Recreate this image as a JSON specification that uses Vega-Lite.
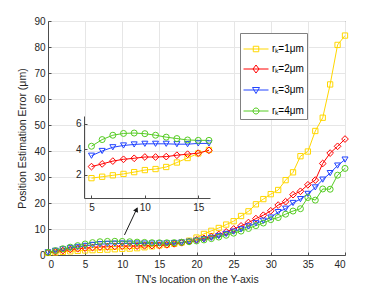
{
  "$schema": "https://vega.github.io/schema/vega-lite/v6.json",
  "width": 297,
  "height": 234,
  "autosize": {"type": "none"},
  "padding": {"left": 48, "top": 21, "right": 37, "bottom": 32},
  "background": "white",
  "config": {
    "font": "Liberation Sans",
    "view": {"stroke": "#4d4d4d", "strokeWidth": 1},
    "axis": {
      "labelFont": "Liberation Sans", "labelFontSize": 10, "labelColor": "#262626",
      "titleFont": "Liberation Sans", "titleFontSize": 10.5, "titleFontWeight": "normal", "titleColor": "#262626",
      "domainColor": "#4d4d4d", "tickColor": "#4d4d4d", "gridColor": "#e6e6e6"
    }
  },
  "datasets": {"d": [
    {"x":0,"r1":0.8,"r2":0.9,"r3":1.0,"r4":1.0},
    {"x":1,"r1":1.0,"r2":1.3,"r3":1.6,"r4":1.7},
    {"x":2,"r1":1.2,"r2":1.7,"r3":2.2,"r4":2.4},
    {"x":3,"r1":1.4,"r2":2.1,"r3":2.7,"r4":3.0},
    {"x":4,"r1":1.6,"r2":2.4,"r3":3.1,"r4":3.6},
    {"x":5,"r1":1.75,"r2":2.65,"r3":3.5,"r4":4.24},
    {"x":6,"r1":1.86,"r2":2.86,"r3":3.87,"r4":4.76},
    {"x":7,"r1":1.97,"r2":3.08,"r3":4.16,"r4":5.1},
    {"x":8,"r1":2.08,"r2":3.22,"r3":4.3,"r4":5.24},
    {"x":9,"r1":2.22,"r2":3.3,"r3":4.38,"r4":5.27},
    {"x":10,"r1":2.38,"r2":3.4,"r3":4.43,"r4":5.22},
    {"x":11,"r1":2.46,"r2":3.4,"r3":4.43,"r4":5.1},
    {"x":12,"r1":2.62,"r2":3.43,"r3":4.43,"r4":4.95},
    {"x":13,"r1":2.97,"r2":3.54,"r3":4.4,"r4":4.84},
    {"x":14,"r1":3.32,"r2":3.62,"r3":4.4,"r4":4.73},
    {"x":15,"r1":3.68,"r2":3.7,"r3":4.46,"r4":4.7},
    {"x":16,"r1":3.95,"r2":3.92,"r3":4.46,"r4":4.7},
    {"x":17,"r1":4.3,"r2":4.3,"r3":4.6,"r4":4.75},
    {"x":18,"r1":4.8,"r2":4.7,"r3":4.8,"r4":4.9},
    {"x":19,"r1":5.5,"r2":5.2,"r3":5.1,"r4":5.1},
    {"x":20,"r1":6.7,"r2":5.8,"r3":5.5,"r4":5.4},
    {"x":21,"r1":8.1,"r2":6.4,"r3":6.0,"r4":5.8},
    {"x":22,"r1":9.3,"r2":7.1,"r3":6.6,"r4":6.3},
    {"x":23,"r1":10.4,"r2":7.9,"r3":7.3,"r4":6.9},
    {"x":24,"r1":11.7,"r2":8.9,"r3":8.1,"r4":7.6},
    {"x":25,"r1":13.0,"r2":10.0,"r3":9.0,"r4":8.4},
    {"x":26,"r1":15.0,"r2":11.2,"r3":9.9,"r4":9.2},
    {"x":27,"r1":16.8,"r2":12.5,"r3":11.0,"r4":10.2},
    {"x":28,"r1":19.5,"r2":14.0,"r3":12.2,"r4":11.3},
    {"x":29,"r1":21.5,"r2":15.3,"r3":13.2,"r4":12.3},
    {"x":30,"r1":23.4,"r2":17.0,"r3":14.4,"r4":13.6},
    {"x":31,"r1":25.0,"r2":19.2,"r3":16.5,"r4":14.4},
    {"x":32,"r1":28.8,"r2":20.5,"r3":17.8,"r4":15.7},
    {"x":33,"r1":31.8,"r2":23.2,"r3":20.0,"r4":16.9},
    {"x":34,"r1":38.0,"r2":24.5,"r3":21.5,"r4":17.8},
    {"x":35,"r1":39.8,"r2":27.0,"r3":23.5,"r4":22.1},
    {"x":36,"r1":47.7,"r2":28.8,"r3":26.0,"r4":21.1},
    {"x":37,"r1":52.8,"r2":35.2,"r3":29.0,"r4":25.4},
    {"x":38,"r1":65.6,"r2":39.2,"r3":31.5,"r4":25.3},
    {"x":39,"r1":80.8,"r2":41.8,"r3":34.4,"r4":30.7},
    {"x":40,"r1":84.4,"r2":44.6,"r3":36.7,"r4":33.3}
  ]},
  "layer": [
    {
      "data": {"name": "d"},
      "transform": [{"fold": ["r1", "r2", "r3", "r4"], "as": ["s", "v"]}],
      "encoding": {
        "x": {"field": "x", "type": "quantitative",
              "scale": {"domain": [0, 40], "nice": false, "zero": false},
              "axis": {"values": [0,5,10,15,20,25,30,35,40], "title": "TN's location on the Y-axis", "grid": true, "tickSize": -3, "labelPadding": 7, "titlePadding": 5}},
        "y": {"field": "v", "type": "quantitative",
              "scale": {"domain": [0, 90], "nice": false},
              "axis": {"values": [0,10,20,30,40,50,60,70,80,90], "title": "Position Estimation Error (μm)", "grid": true, "tickSize": -3, "labelPadding": 6, "titlePadding": 6}}
      },
      "layer": [
        {
          "mark": {"type": "line", "strokeWidth": 1},
          "encoding": {
            "color": {"field": "s", "type": "nominal", "scale": {"domain": ["r1","r2","r3","r4"], "range": ["#FFD700","#FF0000","#2244FF","#55CC22"]}, "legend": null}
          }
        },
        {
          "transform": [{"filter": "datum.s === 'r1'"}],
          "mark": {"type": "point", "shape": "square", "size": 28, "strokeWidth": 1, "opacity": 1},
          "encoding": {"color": {"field": "s", "type": "nominal", "legend": null}}
        },
        {
          "transform": [{"filter": "datum.s === 'r2'"}],
          "mark": {"type": "point", "shape": "diamond", "size": 45, "strokeWidth": 1, "opacity": 1},
          "encoding": {"color": {"field": "s", "type": "nominal", "legend": null}}
        },
        {
          "transform": [{"filter": "datum.s === 'r3'"}],
          "mark": {"type": "point", "shape": "triangle-down", "size": 36, "strokeWidth": 1, "opacity": 1},
          "encoding": {"color": {"field": "s", "type": "nominal", "legend": null}}
        },
        {
          "transform": [{"filter": "datum.s === 'r4'"}],
          "mark": {"type": "point", "shape": "circle", "size": 36, "strokeWidth": 1, "opacity": 1},
          "encoding": {"color": {"field": "s", "type": "nominal", "legend": null}}
        }
      ]
    },
    {
      "data": {"values": [{"x0": 10.3, "y0": 7.7, "x1": 12.0, "y1": 18.0, "xh": 11.93, "yh": 17.5}]},
      "layer": [
        {
          "mark": {"type": "rule", "color": "#1a1a1a", "strokeWidth": 1},
          "encoding": {
            "x": {"field": "x0", "type": "quantitative", "scale": {"domain": [0, 40], "nice": false, "zero": false}, "axis": null},
            "y": {"field": "y0", "type": "quantitative", "scale": {"domain": [0, 90], "nice": false}, "axis": null},
            "x2": {"field": "x1"},
            "y2": {"field": "y1"}
          }
        },
        {
          "mark": {"type": "point", "shape": "triangle-up", "filled": true, "color": "#1a1a1a", "size": 30, "angle": 25, "opacity": 1},
          "encoding": {
            "x": {"field": "xh", "type": "quantitative"},
            "y": {"field": "yh", "type": "quantitative"}
          }
        }
      ]
    },
    {
      "data": {"name": "d"},
      "transform": [{"fold": ["r1", "r2", "r3", "r4"], "as": ["s", "v"]}],
      "encoding": {
        "x": {"field": "x", "type": "quantitative",
              "scale": {"domain": [4.3, 16.1], "nice": false, "zero": false, "range": [36, 162]},
              "axis": {"orient": "bottom", "offset": -57, "values": [5, 10, 15], "title": null, "grid": false, "tickSize": -3, "labelPadding": 7, "zindex": 1}},
        "y": {"field": "v", "type": "quantitative",
              "scale": {"domain": [0.2, 6.6], "nice": false, "zero": false, "range": [177, 95]},
              "axis": {"orient": "left", "offset": -36, "values": [2, 4, 6], "title": null, "grid": false, "tickSize": -3, "labelPadding": 6, "zindex": 1}}
      },
      "layer": [
        {
          "data": {"values": [{"a": 1}]},
          "mark": {"type": "rect", "fill": "white", "stroke": "#4d4d4d", "strokeWidth": 1},
          "encoding": {
            "x": {"datum": 4.3, "type": "quantitative"},
            "x2": {"datum": 16.1},
            "y": {"datum": 0.2, "type": "quantitative"},
            "y2": {"datum": 6.6}
          }
        },
        {
          "transform": [{"filter": "datum.x >= 5 && datum.x <= 16"}],
          "mark": {"type": "line", "strokeWidth": 1},
          "encoding": {"color": {"field": "s", "type": "nominal", "legend": null}}
        },
        {
          "transform": [{"filter": "datum.x >= 5 && datum.x <= 16 && datum.s === 'r1'"}],
          "mark": {"type": "point", "shape": "square", "size": 28, "strokeWidth": 1, "opacity": 1},
          "encoding": {"color": {"field": "s", "type": "nominal", "legend": null}}
        },
        {
          "transform": [{"filter": "datum.x >= 5 && datum.x <= 16 && datum.s === 'r2'"}],
          "mark": {"type": "point", "shape": "diamond", "size": 45, "strokeWidth": 1, "opacity": 1},
          "encoding": {"color": {"field": "s", "type": "nominal", "legend": null}}
        },
        {
          "transform": [{"filter": "datum.x >= 5 && datum.x <= 16 && datum.s === 'r3'"}],
          "mark": {"type": "point", "shape": "triangle-down", "size": 36, "strokeWidth": 1, "opacity": 1},
          "encoding": {"color": {"field": "s", "type": "nominal", "legend": null}}
        },
        {
          "transform": [{"filter": "datum.x >= 5 && datum.x <= 16 && datum.s === 'r4'"}],
          "mark": {"type": "point", "shape": "circle", "size": 36, "strokeWidth": 1, "opacity": 1},
          "encoding": {"color": {"field": "s", "type": "nominal", "legend": null}}
        }
      ]
    },
    {
      "data": {"name": "d"},
      "transform": [{"fold": ["r1", "r2", "r3", "r4"], "as": ["s", "v"]}, {"filter": "datum.x === 0"}],
      "mark": {"type": "point", "strokeWidth": 1, "strokeOpacity": 0},
      "encoding": {
        "x": {"field": "x", "type": "quantitative", "scale": {"domain": [0, 40]}, "axis": null},
        "y": {"field": "v", "type": "quantitative", "scale": {"domain": [0, 90]}, "axis": null},
        "stroke": {"field": "s", "type": "nominal",
          "scale": {"domain": ["r1","r2","r3","r4"], "range": ["#FFD700","#FF0000","#2244FF","#55CC22"]},
          "legend": {"orient": "none", "legendX": 192, "legendY": 12, "title": null, "symbolSize": 625, "rowPadding": 2, "padding": 3, "labelOffset": 3, "labelFontSize": 10, "strokeColor": "#808080", "fillColor": "white", "symbolStrokeWidth": 1, "symbolOpacity": 1, "labelExpr": "'rₖ=' + replace(datum.label, 'r', '') + 'μm'"}},
        "shape": {"field": "s", "type": "nominal",
          "scale": {"domain": ["r1","r2","r3","r4"], "range": [
            "M-1,0H1M-0.22,-0.22H0.22V0.22H-0.22Z",
            "M-1,0H1M0,-0.32L0.24,0L0,0.32L-0.24,0Z",
            "M-1,0H1M-0.28,-0.2H0.28L0,0.28Z",
            "M-1,0H1M0.24,0A0.24,0.24,0,1,1,-0.24,0A0.24,0.24,0,1,1,0.24,0Z"
          ]},
          "legend": {"orient": "none", "legendX": 192, "legendY": 12, "title": null, "symbolSize": 625, "rowPadding": 2, "padding": 3, "labelOffset": 3, "labelFontSize": 10, "strokeColor": "#808080", "fillColor": "white", "symbolStrokeWidth": 1, "symbolOpacity": 1, "labelExpr": "'rₖ=' + replace(datum.label, 'r', '') + 'μm'"}}
      }
    }
  ],
  "resolve": {"scale": {"x": "independent", "y": "independent", "shape": "independent", "stroke": "independent"}}
}
